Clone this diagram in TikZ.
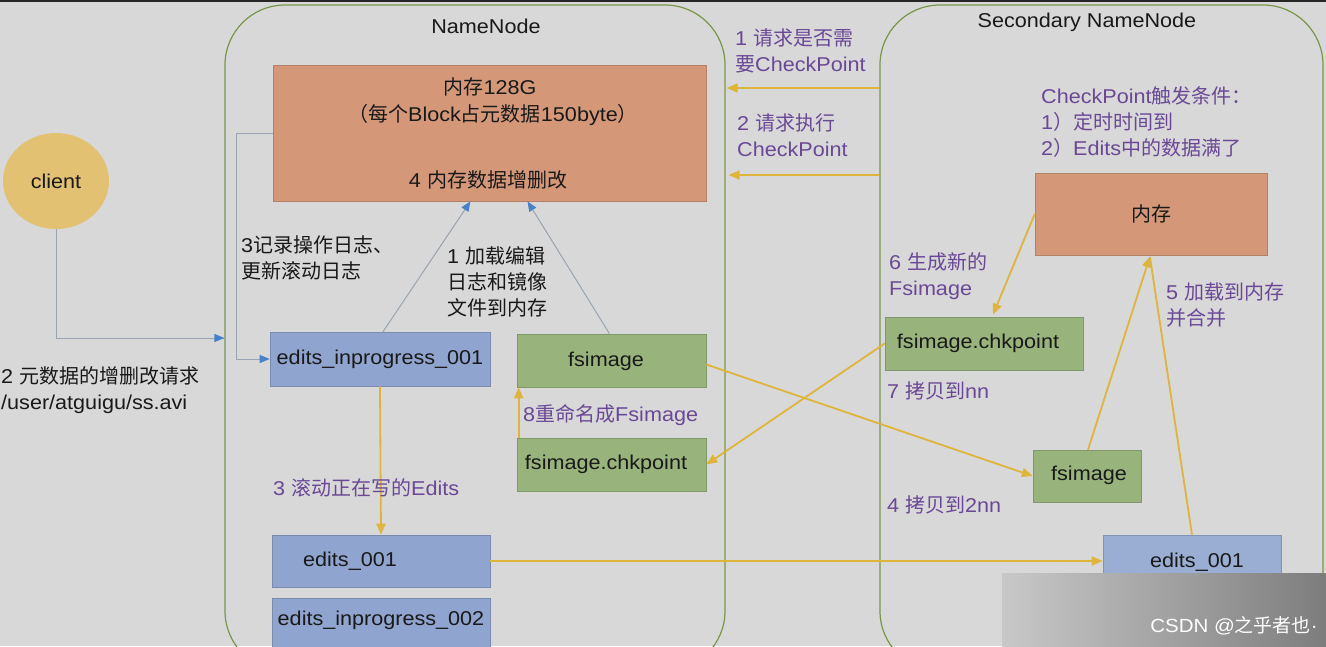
\documentclass[tikz,border=0pt]{standalone}
\usepackage{fontspec}
\setmainfont{Liberation Sans}[FakeStretch=1.08]
\newfontfamily\cjk{Noto Sans CJK SC}
\newcommand\zh[1]{{\cjk #1}}
\usetikzlibrary{arrows.meta,calc,shapes.geometric}
\definecolor{bgc}{RGB}{216,216,216}
\definecolor{contc}{RGB}{122,150,74}
\definecolor{orangec}{RGB}{212,152,120}
\definecolor{bluec}{RGB}{143,164,206}
\definecolor{greenc}{RGB}{152,180,124}
\definecolor{yarrc}{RGB}{222,180,58}
\definecolor{purpc}{RGB}{106,72,150}
\definecolor{glinkc}{RGB}{152,164,178}
\definecolor{tipc}{RGB}{70,130,200}
\definecolor{clientc}{RGB}{226,194,114}
\definecolor{txtc}{RGB}{25,25,25}
\tikzset{
  cont/.style={draw=contc, line width=1.2pt, rounded corners=60pt, inner sep=0pt},
  box/.style={draw=#1!85!black, fill=#1, line width=0.6pt, inner sep=0pt, text=txtc},
  yarr/.style={draw=yarrc, line width=1.8pt, -{Triangle[length=11pt,width=9pt]}},
  glnk/.style={draw=glinkc, line width=1pt, -{Triangle[length=10pt,width=8pt,color=tipc]}},
  lbl/.style={text=txtc, inner sep=0pt, align=left},
  plbl/.style={text=purpc, inner sep=0pt, align=left},
}
\begin{document}
\begin{tikzpicture}[x=1pt,y=-1pt,font=\fontsize{20}{26}\selectfont]
\useasboundingbox (0,0) rectangle (1326,646);
\fill[bgc] (0,0) rectangle (1326,646);
\fill[black!85] (0,0) rectangle (1326,2);
\begin{scope}
\clip (0,0) rectangle (1326,646);
% containers
\node[cont, minimum width=500, minimum height=666] (nn) at (475,338) {};
\node[cont, minimum width=443, minimum height=666] (snn) at (1101.5,338) {};
\node[lbl] (nnt) at (486,26) {NameNode};
\node[lbl] (snnt) at (1087,22) {Secondary NameNode};
% client
\node[ellipse, fill=clientc, minimum width=106, minimum height=96, inner sep=0pt, text=txtc] (client) at (56,181) {client};
% NameNode boxes
\node[box=orangec, minimum width=433, minimum height=136] (mem) at (489.5,133) {};
\node[lbl] (memt1) at (490,87) {\zh{内存}128G};
\node[lbl] (memt2) at (493,115) {\zh{（每个}Block\zh{占元数据}150byte\zh{）}};
\node[lbl] (memt3) at (488,180) {4 \zh{内存数据增删改}};
\node[box=bluec, minimum width=220, minimum height=54] (ei1) at (380,359) {edits\_inprogress\_001};
\node[box=greenc, minimum width=189, minimum height=53] (fs) at (611.5,360.5) {};
\node[lbl] (fst) at (606,361) {fsimage};
\node[box=greenc, minimum width=189, minimum height=53] (fc) at (611.5,464.5) {};
\node[lbl] (fct) at (606,464) {fsimage.chkpoint};
\node[box=bluec, minimum width=218, minimum height=52] (e1) at (381,561) {};
\node[lbl] (e1t) at (350,561) {edits\_001};
\node[box=bluec, minimum width=218, minimum height=52] (e2) at (381,624) {};
\node[lbl] (e2t) at (381,620) {edits\_inprogress\_002};
% Secondary boxes
\node[box=orangec, minimum width=232, minimum height=82] (smem) at (1151,214) {\zh{内存}};
\node[box=greenc, minimum width=198, minimum height=53] (sfc) at (984,343.5) {};
\node[lbl] (sfct) at (978,343) {fsimage.chkpoint};
\node[box=greenc, minimum width=108, minimum height=52] (sfs) at (1087,476) {};
\node[lbl] (sfst) at (1089,475) {fsimage};
\node[box=bluec!90!white, minimum width=178, minimum height=55] (se1) at (1192,562.5) {};
\node[lbl] (se1t) at (1197,562) {edits\_001};
% gray links
\draw[glinkc, line width=1pt] (client.south) |- (nn.west);
\draw[glnk] ($(nn.west)+(-12,0)$) -- (nn.west);
\draw[glnk] (mem.west) -- ++(-36,0) |- (ei1.west);
\draw[glnk] ($(ei1.north)+(3,0)$) -- ($(mem.south)+(-19,0)$);
\draw[glnk] ($(fs.north)+(-2,0)$) -- ($(mem.south)+(38,0)$);
% yellow arrows
\coordinate (ya) at (0,88);
\coordinate (yb) at (0,175);
\draw[yarr] (snn.west |- ya) -- ($(nn.east |- ya)+(1,0)$);
\draw[yarr] (snn.west |- yb) -- ($(nn.east |- yb)+(3,0)$);
\draw[yarr] (ei1.south) -- (e1.north);
\draw[yarr] ($(fc.north west)+(2,0)$) -- ($(fs.south west)+(2,0)$);
\draw[yarr] (e1.east) -- (se1.west |- e1.east);
\draw[yarr] ($(fs.east)+(0,4)$) -- (sfs.west);
\draw[yarr] (sfc.west) -- (fc.east);
\draw[yarr] (smem.west) -- ($(sfc.north)+(9,-2)$);
\draw[yarrc, line width=1.8pt] ($(se1.north)+(0,0)$) -- ($(smem.south)+(-1,2)$);
\draw[yarr] ($(sfs.north)+(1,0)$) -- ($(smem.south)+(-1,1)$);
% labels
\node[lbl, anchor=west] (lreq) at (1,390) {2 \zh{元数据的增删改请求}\\/user/atguigu/ss.avi};
\node[lbl, anchor=west] (llog) at (241,258) {3\zh{记录操作日志、}\\\zh{更新滚动日志}};
\node[lbl, anchor=west] (lload) at (447,282) {1 \zh{加载编辑}\\\zh{日志和镜像}\\\zh{文件到内存}};
\node[plbl, anchor=west] (lroll) at (273,488) {3 \zh{滚动正在写的}Edits};
\node[plbl, anchor=west] (lren) at (523,415) {8\zh{重命名成}Fsimage};
\node[plbl, anchor=west] (lq1) at (735,51) {1 \zh{请求是否需}\\\zh{要}CheckPoint};
\node[plbl, anchor=west] (lq2) at (737,135) {2 \zh{请求执行}\\CheckPoint};
\node[plbl, anchor=west] (lcond) at (1041,122) {CheckPoint\zh{触发条件：}\\1\zh{）定时时间到}\\2\zh{）}Edits\zh{中的数据满了}};
\node[plbl, anchor=west] (lgen) at (889,276) {6 \zh{生成新的}\\Fsimage};
\node[plbl, anchor=west] (lcp7) at (887,391) {7 \zh{拷贝到}nn};
\node[plbl, anchor=west] (lcp4) at (887,505) {4 \zh{拷贝到}2nn};
\node[plbl, anchor=west] (lmerge) at (1166,305) {5 \zh{加载到内存}\\\zh{并合并}};
% watermark
\shade[left color={rgb,255:red,200;green,200;blue,200}, right color={rgb,255:red,125;green,125;blue,125}] (1002,573) rectangle (1326,646);
\node[text=white, font=\fontsize{19}{22}\selectfont, inner sep=0pt] (wm) at (1234,626) {CSDN @\zh{之乎者也}·};
\end{scope}
\end{tikzpicture}
\end{document}
